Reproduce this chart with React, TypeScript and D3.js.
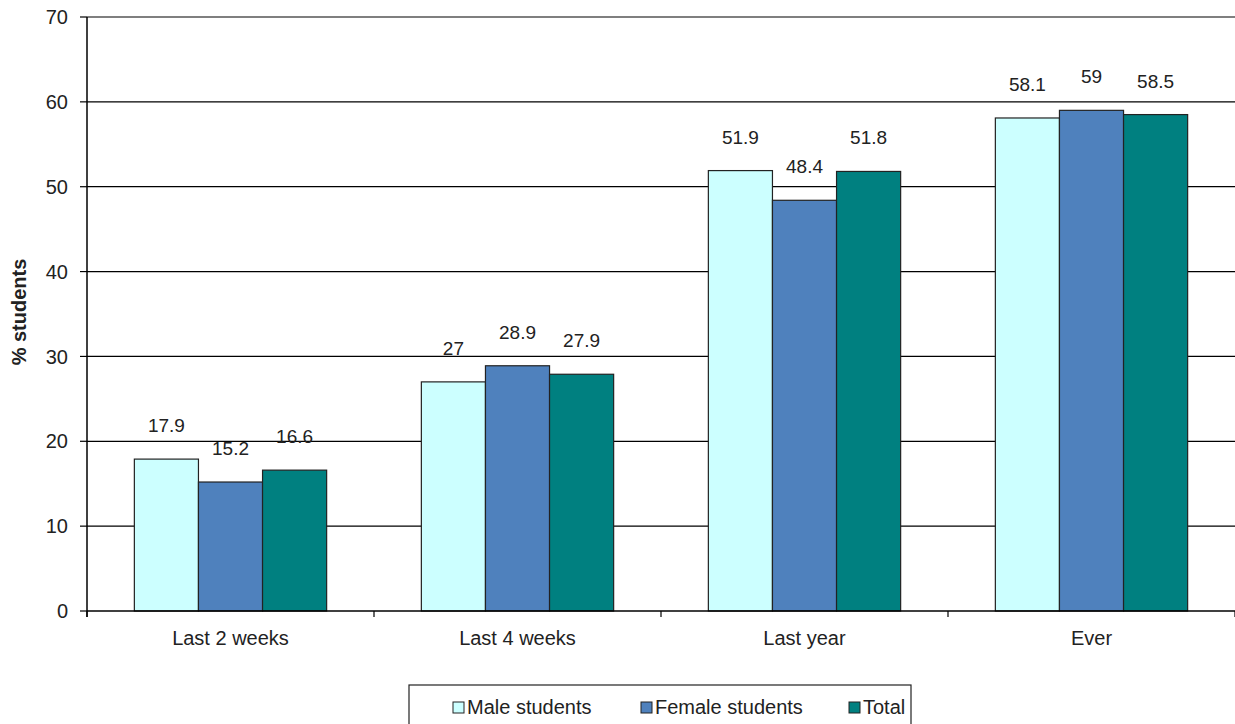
import React from "react";
import * as d3 from "d3";

const categories = ["Last 2 weeks", "Last 4 weeks", "Last year", "Ever"];
const seriesNames = ["Male students", "Female students", "Total"];
const maleValues = [17.9, 27, 51.9, 58.1];
const femaleValues = [15.2, 28.9, 48.4, 59];
const totalValues = [16.6, 27.9, 51.8, 58.5];
const seriesColors = ["#CCFFFF", "#4F81BD", "#008080"];
const yTicks = [0, 10, 20, 30, 40, 50, 60, 70];

const W = 1235;
const H = 724;
const left = 87;
const right = 1235;
const top = 17;
const bottom = 611;
const FONT = "'Liberation Sans', Arial, sans-serif";

export default function App() {
  const series = [maleValues, femaleValues, totalValues];
  const x = d3.scaleBand<string>().domain(categories).range([left, right]).paddingInner(0).paddingOuter(0);
  const y = d3.scaleLinear().domain([0, 70]).range([bottom, top]);
  const bw = x.bandwidth();
  const groupW = bw * 0.67;
  const inner = d3.scaleBand<number>().domain([0, 1, 2]).range([0, groupW]);
  const boundaries = categories.map((c) => x(c) as number).concat([right]);

  return (
    <svg width={W} height={H} style={{ position: "absolute", left: 0, top: 0, background: "#fff" }} fontFamily={FONT}>
      {yTicks.map((t) => (
        <g key={t}>
          {t > 0 && <line x1={left} x2={right} y1={y(t)} y2={y(t)} stroke="#000" strokeWidth={1.2} />}
          <line x1={left - 7} x2={left} y1={y(t)} y2={y(t)} stroke="#000" strokeWidth={1.2} />
          <text x={left - 19} y={y(t)} dy="0.36em" textAnchor="end" fontSize={20} fill="#222">{t}</text>
        </g>
      ))}
      {categories.map((c, ci) => {
        const x0 = (x(c) as number) + (bw - groupW) / 2;
        return (
          <g key={c}>
            {series.map((vals, si) => {
              const bx = x0 + (inner(si) as number);
              const v = vals[ci];
              return (
                <g key={si}>
                  <rect x={bx} y={y(v)} width={inner.bandwidth()} height={y(0) - y(v)} fill={seriesColors[si]} stroke="#222" strokeWidth={1.2} />
                  <text x={bx + inner.bandwidth() / 2} y={y(v) - 27} textAnchor="middle" fontSize={19} fill="#222">{v}</text>
                </g>
              );
            })}
            <text x={(x(c) as number) + bw / 2} y={645} textAnchor="middle" fontSize={20} fill="#222">{c}</text>
          </g>
        );
      })}
      <line x1={left} x2={right} y1={bottom} y2={bottom} stroke="#000" strokeWidth={1.5} />
      {boundaries.map((b, i) => (
        <line key={i} x1={b} x2={b} y1={bottom} y2={bottom + 6} stroke="#000" strokeWidth={1.2} />
      ))}
      <line x1={left} x2={left} y1={top} y2={bottom + 6} stroke="#000" strokeWidth={1.5} />
      <text transform={`translate(26,312) rotate(-90)`} textAnchor="middle" fontSize={20} fontWeight="bold" fill="#222">% students</text>
      <g>
        <rect x={409} y={685} width={502} height={45} fill="#fff" stroke="#222" strokeWidth={1.2} />
        {seriesNames.map((s, i) => {
          const lx = [453, 641, 849][i];
          return (
            <g key={s}>
              <rect x={lx} y={702} width={11} height={11} fill={seriesColors[i]} stroke="#222" strokeWidth={1} />
              <text x={lx + 14} y={714} fontSize={20} fill="#222">{s}</text>
            </g>
          );
        })}
      </g>
    </svg>
  );
}
